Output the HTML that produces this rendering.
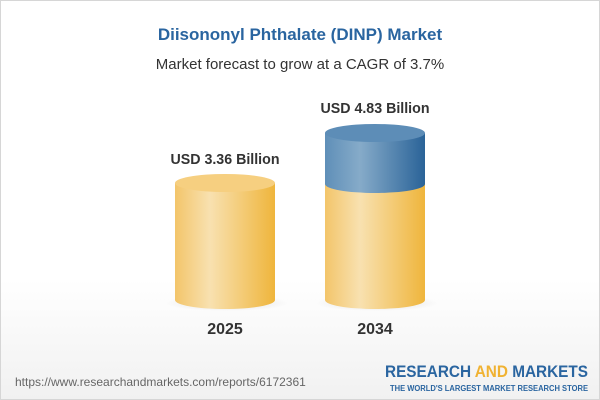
<!DOCTYPE html>
<html><head><style>
body{margin:0;width:600px;height:400px;overflow:hidden;font-family:"Liberation Sans",sans-serif}
.w{position:absolute;left:0;top:0;width:598px;height:398px;border:1px solid #d6d6d6;background:linear-gradient(#fff 0,#fff 70%,#f1f1f1 100%)}
</style></head><body><div class="w">
<svg width="598" height="398" style="position:absolute;left:0;top:0">
<defs>
<linearGradient id="y" x1="0" x2="1"><stop offset="0" stop-color="#f3c56a"/><stop offset=".35" stop-color="#f8e1b0"/><stop offset="1" stop-color="#efb53c"/></linearGradient>
<linearGradient id="b" x1="0" x2="1"><stop offset="0" stop-color="#5f8fb8"/><stop offset=".35" stop-color="#86abc9"/><stop offset="1" stop-color="#2a6398"/></linearGradient>
<radialGradient id="sh"><stop offset="0" stop-color="#000" stop-opacity=".12"/><stop offset="1" stop-color="#000" stop-opacity="0"/></radialGradient>
</defs>
<text x="299" y="39" text-anchor="middle" font-size="17" font-weight="bold" fill="#2a65a0">Diisononyl Phthalate (DINP) Market</text>
<text x="299" y="68" text-anchor="middle" font-size="15" fill="#333">Market forecast to grow at a CAGR of 3.7%</text>
<ellipse cx="226" cy="302" rx="62" ry="8" fill="url(#sh)"/>
<ellipse cx="376" cy="302" rx="62" ry="8" fill="url(#sh)"/>
<path d="M174 182 V299 A50 9 0 0 0 274 299 V182 Z" fill="url(#y)"/>
<ellipse cx="224" cy="182" rx="50" ry="9" fill="#f6cf80"/>
<path d="M324 183 V299 A50 9 0 0 0 424 299 V183 Z" fill="url(#y)"/>
<path d="M324 132 V183 A50 9 0 0 0 424 183 V132 Z" fill="url(#b)"/>
<ellipse cx="374" cy="132" rx="50" ry="9" fill="#5d8db7"/>
<text x="224" y="163" text-anchor="middle" font-size="15" font-weight="bold" fill="#333" textLength="109" lengthAdjust="spacingAndGlyphs">USD 3.36 Billion</text>
<text x="374" y="112" text-anchor="middle" font-size="15" font-weight="bold" fill="#333" textLength="109" lengthAdjust="spacingAndGlyphs">USD 4.83 Billion</text>
<text x="224" y="333" text-anchor="middle" font-size="16" font-weight="bold" fill="#333">2025</text>
<text x="374" y="333" text-anchor="middle" font-size="16" font-weight="bold" fill="#333">2034</text>
<text x="14" y="385" font-size="12" fill="#666">https://www.researchandmarkets.com/reports/6172361</text>
<text x="587" y="376" text-anchor="end" font-size="17" font-weight="bold" fill="#2a65a0" textLength="203" lengthAdjust="spacingAndGlyphs">RESEARCH <tspan fill="#f0b232">AND</tspan> MARKETS</text>
<text x="587" y="390" text-anchor="end" font-size="8" font-weight="bold" fill="#2a65a0" textLength="198" lengthAdjust="spacingAndGlyphs">THE WORLD'S LARGEST MARKET RESEARCH STORE</text>
</svg></div></body></html>
